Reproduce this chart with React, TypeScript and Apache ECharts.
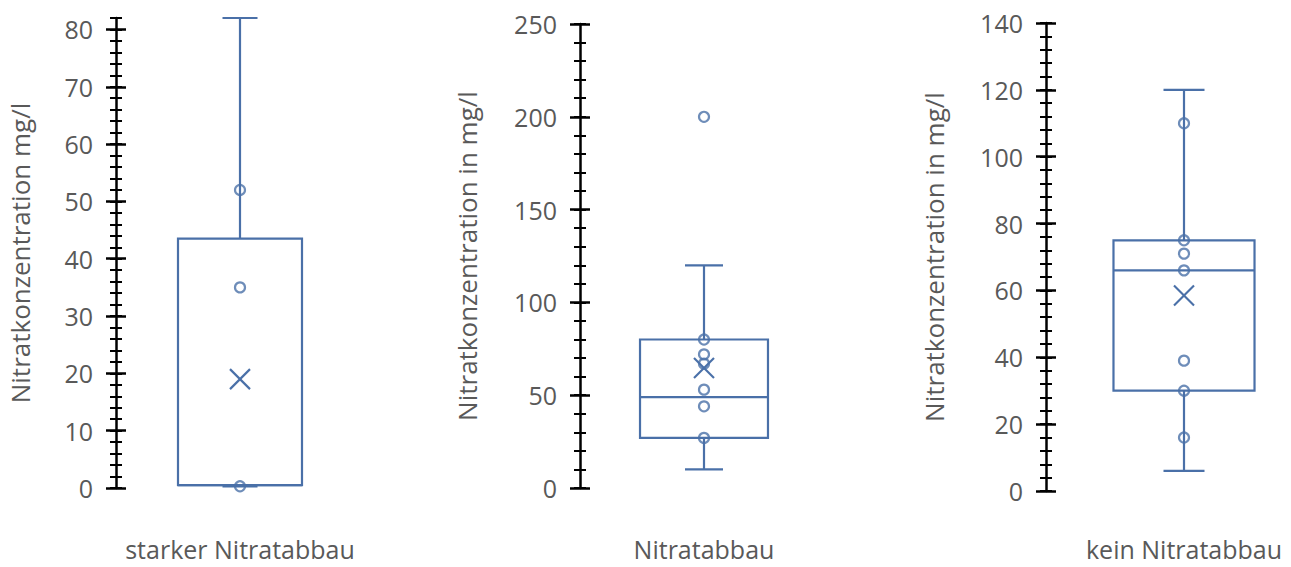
import React, { useEffect, useRef } from "react";
import * as echarts from "echarts";

const categories = ["starker Nitratabbau", "Nitratabbau", "kein Nitratabbau"];
const axisTitles = [
  "Nitratkonzentration mg/l",
  "Nitratkonzentration in mg/l",
  "Nitratkonzentration in mg/l",
];
const yMax = [82, 250, 140];
const majorTicks1 = [0, 10, 20, 30, 40, 50, 60, 70, 80];
const majorTicks2 = [0, 50, 100, 150, 200, 250];
const majorTicks3 = [0, 20, 40, 60, 80, 100, 120, 140];
const minorStep = [2, 10, 4];

// [min, Q1, median, Q3, max]
const boxStats1 = [0.3, 0.5, 0.5, 43.5, 82];
const boxStats2 = [10, 27, 49, 80, 120];
const boxStats3 = [6, 30, 66, 75, 120];
const means = [19, 64.7, 58.5];
const points1 = [52, 35, 0.3];
const points2 = [200, 80, 72, 67, 53, 44, 27];
const points3 = [110, 75, 71, 66, 39, 30, 16];

const majorTicks = [majorTicks1, majorTicks2, majorTicks3];
const boxStats = [boxStats1, boxStats2, boxStats3];
const points = [points1, points2, points3];

// layout / style
const grids = [
  { left: 116, top: 18, width: 248, height: 470 },
  { left: 580, top: 24, width: 248, height: 464 },
  { left: 1046, top: 23, width: 276, height: 468 },
];
const nameGaps = [83, 100, 99];
const labelMargins = [48, 48, 45];
const boxRatio = [0.5, 0.516, 0.511];
const capWidth = [35, 38, 41];
const BLUE = "#4A70A8";
const GRAY = "#595959";
const FONT = "Open Sans";

function minorValues(max: number, step: number) {
  const out: number[] = [];
  for (let v = 0; v <= max + 1e-9; v += step) out.push(Math.round(v * 1000) / 1000);
  return out;
}

export default function App() {
  const ref = useRef<HTMLDivElement>(null);
  useEffect(() => {
    if (!ref.current) return;
    const chart = echarts.init(ref.current, null, { renderer: "svg" });
    const grid: any[] = [];
    const xAxis: any[] = [];
    const yAxis: any[] = [];
    const series: any[] = [];
    for (let i = 0; i < 3; i++) {
      grid.push({ ...grids[i], containLabel: false });
      xAxis.push({
        type: "category",
        gridIndex: i,
        data: [categories[i]],
        axisLine: { show: false },
        axisTick: { show: false },
        splitLine: { show: false },
        axisLabel: {
          margin: labelMargins[i],
          fontSize: 25,
          lineHeight: 25,
          color: GRAY,
          fontFamily: FONT,
        },
      });
      yAxis.push({
        type: "value",
        gridIndex: i,
        position: "left",
        min: 0,
        max: yMax[i],
        name: axisTitles[i],
        nameLocation: "middle",
        nameGap: nameGaps[i],
        nameTextStyle: { fontSize: 26, color: GRAY, fontFamily: FONT },
        axisLine: { show: true, lineStyle: { color: "#000", width: 2.5 } },
        axisTick: { show: false },
        splitLine: { show: false },
        axisLabel: {
          customValues: majorTicks[i],
          margin: 23,
          fontSize: 25,
          color: GRAY,
          fontFamily: FONT,
        },
      });
      yAxis.push({
        type: "value",
        gridIndex: i,
        position: "left",
        offset: -10,
        min: 0,
        max: yMax[i],
        axisLine: { show: false },
        axisLabel: { show: false },
        splitLine: { show: false },
        axisTick: {
          show: true,
          length: 20,
          customValues: majorTicks[i],
          lineStyle: { color: "#000", width: 2.5 },
        },
      });
      yAxis.push({
        type: "value",
        gridIndex: i,
        position: "left",
        offset: -6,
        min: 0,
        max: yMax[i],
        axisLine: { show: false },
        axisLabel: { show: false },
        splitLine: { show: false },
        axisTick: {
          show: true,
          length: 12,
          customValues: minorValues(yMax[i], minorStep[i]),
          lineStyle: { color: "#000", width: 2 },
        },
      });
      const ratio = boxRatio[i];
      const capW = capWidth[i];
      series.push({
        type: "custom",
        xAxisIndex: i,
        yAxisIndex: 3 * i,
        data: [[0, ...boxStats[i], means[i]]],
        encode: { x: 0, y: [1, 2, 3, 4, 5, 6] },
        renderItem: (params: any, api: any) => {
          const x = api.value(0);
          const pMin = api.coord([x, api.value(1)]);
          const pQ1 = api.coord([x, api.value(2)]);
          const pMed = api.coord([x, api.value(3)]);
          const pQ3 = api.coord([x, api.value(4)]);
          const pMax = api.coord([x, api.value(5)]);
          const pMean = api.coord([x, api.value(6)]);
          const band = api.size([1, 0])[0];
          const hw = (band * ratio) / 2;
          const cx = pMed[0];
          const st = { stroke: BLUE, lineWidth: 2.2, fill: null };
          const xs = 10;
          return {
            type: "group",
            children: [
              { type: "line", shape: { x1: cx, y1: pQ3[1], x2: cx, y2: pMax[1] }, style: st },
              { type: "line", shape: { x1: cx, y1: pQ1[1], x2: cx, y2: pMin[1] }, style: st },
              { type: "line", shape: { x1: cx - capW / 2, y1: pMax[1], x2: cx + capW / 2, y2: pMax[1] }, style: st },
              { type: "line", shape: { x1: cx - capW / 2, y1: pMin[1], x2: cx + capW / 2, y2: pMin[1] }, style: st },
              { type: "rect", shape: { x: cx - hw, y: pQ3[1], width: hw * 2, height: pQ1[1] - pQ3[1] }, style: { stroke: BLUE, lineWidth: 2.2, fill: "none" } },
              { type: "line", shape: { x1: cx - hw, y1: pMed[1], x2: cx + hw, y2: pMed[1] }, style: st },
              { type: "line", shape: { x1: cx - xs, y1: pMean[1] - xs, x2: cx + xs, y2: pMean[1] + xs }, style: st },
              { type: "line", shape: { x1: cx - xs, y1: pMean[1] + xs, x2: cx + xs, y2: pMean[1] - xs }, style: st },
            ],
          };
        },
      });
      series.push({
        type: "scatter",
        xAxisIndex: i,
        yAxisIndex: 3 * i,
        data: points[i].map((v) => [0, v]),
        symbol: "circle",
        symbolSize: 10,
        itemStyle: { color: "rgba(0,0,0,0)", borderColor: BLUE, borderWidth: 2.2 },
        z: 5,
      });
    }
    chart.setOption({
      animation: false,
      backgroundColor: "#fff",
      textStyle: { fontFamily: FONT },
      grid,
      xAxis,
      yAxis,
      series,
    });
    return () => chart.dispose();
  }, []);
  return (
    <div style={{ position: "fixed", left: 0, top: 0, width: 1291, height: 567, overflow: "hidden" }}>
      <div ref={ref} style={{ position: "absolute", left: 0, top: 0, width: 1340, height: 567 }} />
    </div>
  );
}
